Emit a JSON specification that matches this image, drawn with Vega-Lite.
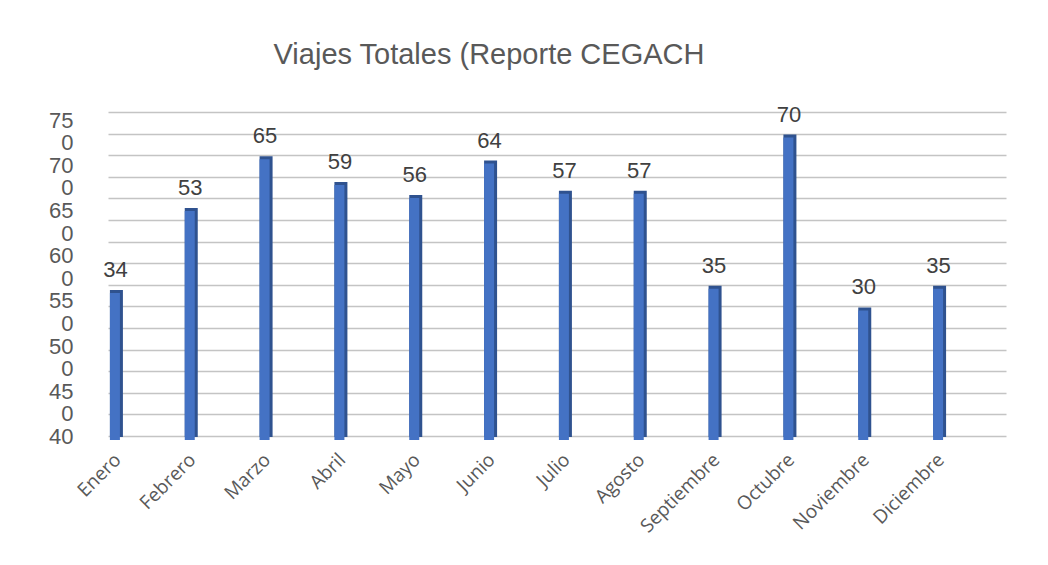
{
  "$schema": "https://vega.github.io/schema/vega-lite/v6.json",
  "autosize": {"type": "none"},
  "width": 898,
  "height": 324,
  "padding": {"left": 108, "top": 112, "right": 42, "bottom": 129},
  "background": "white",
  "config": {"view": {"stroke": null}},
  "title": {
    "text": "Viajes Totales (Reporte CEGACH",
    "font": "Liberation Sans",
    "fontSize": 29,
    "fontWeight": "normal",
    "color": "#595959",
    "anchor": "middle",
    "dx": -68,
    "offset": 34
  },
  "data": {
    "values": [
      {"mes": "Enero", "viajes": 34},
      {"mes": "Febrero", "viajes": 53},
      {"mes": "Marzo", "viajes": 65},
      {"mes": "Abril", "viajes": 59},
      {"mes": "Mayo", "viajes": 56},
      {"mes": "Junio", "viajes": 64},
      {"mes": "Julio", "viajes": 57},
      {"mes": "Agosto", "viajes": 57},
      {"mes": "Septiembre", "viajes": 35},
      {"mes": "Octubre", "viajes": 70},
      {"mes": "Noviembre", "viajes": 30},
      {"mes": "Diciembre", "viajes": 35}
    ]
  },
  "encoding": {
    "x": {
      "field": "mes",
      "type": "nominal",
      "sort": null,
      "scale": {"paddingInner": 0, "paddingOuter": 0},
      "axis": {
        "title": null,
        "labelAngle": -45,
        "labelOffset": -34,
        "labelPadding": 14,
        "labelFont": "Open Sans",
        "labelFontSize": 19,
        "labelColor": "#595959",
        "ticks": false,
        "domain": false,
        "grid": false
      }
    },
    "y": {
      "field": "viajes",
      "type": "quantitative",
      "scale": {"domain": [0, 75], "nice": false},
      "axis": {
        "title": null,
        "values": [0, 5, 10, 15, 20, 25, 30, 35, 40, 45, 50, 55, 60, 65, 70, 75],
        "labelExpr": "['75','0','70','0','65','0','60','0','55','0','50','0','45','0','40',''][(75 - datum.value) / 5]",
        "labelOffset": {"expr": "8 + (75 - datum.value) / 5"},
        "labelPadding": 35,
        "labelFont": "Liberation Sans",
        "labelFontSize": 22,
        "labelColor": "#595959",
        "ticks": false,
        "domain": false,
        "grid": true,
        "gridColor": "#C4C4C4",
        "gridWidth": 1.6
      }
    }
  },
  "layer": [
    {
      "mark": {"type": "bar", "size": 13, "color": "#2F528F", "xOffset": -29, "yOffset": 1, "y2Offset": 3}
    },
    {
      "mark": {"type": "bar", "size": 10, "color": "#4472C4", "xOffset": -30.5, "yOffset": 4, "y2Offset": 4}
    },
    {
      "mark": {"type": "text", "font": "Liberation Sans", "fontSize": 22, "color": "#404040", "baseline": "middle", "dy": -19, "xOffset": -30},
      "encoding": {"text": {"field": "viajes", "type": "quantitative"}}
    }
  ]
}
